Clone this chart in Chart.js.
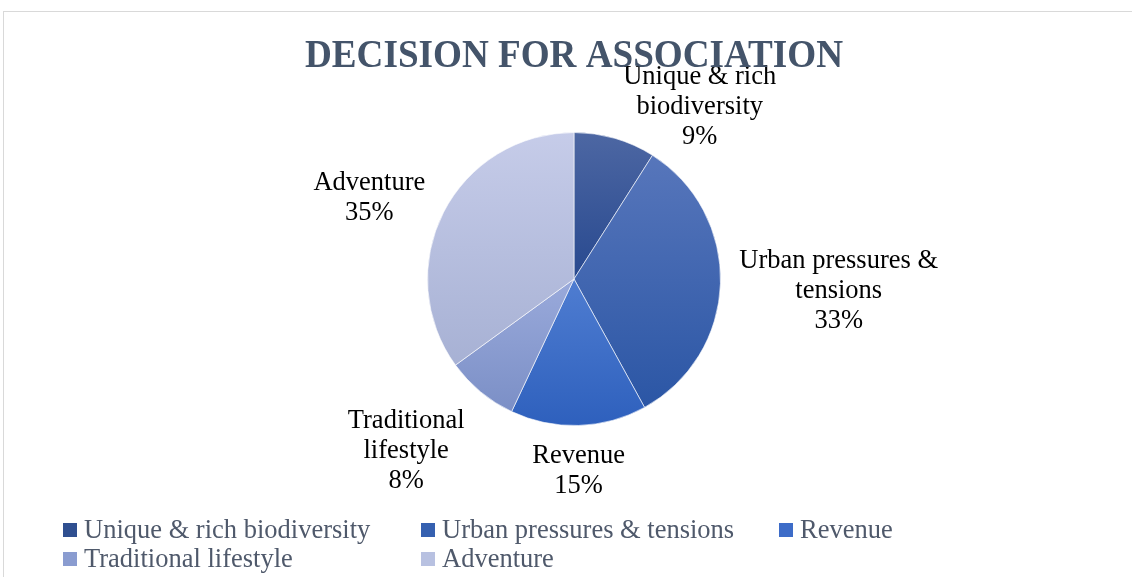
<!DOCTYPE html>
<html>
<head>
<meta charset="utf-8">
<script src="https://cdn.jsdelivr.net/npm/chart.js@4.4.0/dist/chart.umd.min.js"></script>
<style>
  html, body { margin: 0; padding: 0; background: #ffffff; }
  #wrap { position: relative; width: 1132px; height: 577px; overflow: hidden; }
  #frame { position: absolute; left: 3px; top: 11px; width: 1200px; height: 600px; border: 1px solid #d9d9d9; }
  #decision { position: absolute; left: 0; top: 0; }
</style>
</head>
<body>
<div id="wrap">
  <div id="frame"></div>
  <canvas id="decision" width="1132" height="577"></canvas>
</div>
<script>
const chartTitle = 'DECISION FOR ASSOCIATION';
const categories = ['Unique & rich biodiversity', 'Urban pressures & tensions', 'Revenue', 'Traditional lifestyle', 'Adventure'];
const shares = [9, 33, 15, 8, 35];

// light (top) and dark (bottom) stop of each slice's fill
const topColors = ['#4d67a3', '#5776bb', '#4f7dd1', '#9aaadb', '#c6cce9'];
const bottomColors = ['#28498f', '#2b56a5', '#2e60bd', '#7b8fc6', '#a7b1d4'];
const legendColors = ['#2f4f90', '#3560b0', '#3d6cc8', '#8a9cd0', '#b8c1e1'];

const serif = '"Liberation Serif", "Times New Roman", serif';
const labelFont = '26.5px ' + serif;
const labelLine = 30;
// nudges for labels that sit off the mid-angle ray
const labelNudge = [[59, 27], [3, 6], [-2, 0], [-27, 12], [-10, 6]];

function sliceGradient(context) {
  const chart = context.chart;
  const area = chart.chartArea;
  const i = context.dataIndex;
  if (!area) return topColors[i];
  const cx = (area.left + area.right) / 2;
  const cy = (area.top + area.bottom) / 2;
  const r = Math.min(area.right - area.left, area.bottom - area.top) / 2;
  const total = shares.reduce((a, b) => a + b, 0);
  let a0 = -Math.PI / 2;
  for (let k = 0; k < i; k++) a0 += shares[k] / total * Math.PI * 2;
  const a1 = a0 + shares[i] / total * Math.PI * 2;
  const ys = [cy, cy + r * Math.sin(a0), cy + r * Math.sin(a1)];
  const within = (a) => {
    for (let t = a - 4 * Math.PI; t <= a + 4 * Math.PI; t += 2 * Math.PI) {
      if (t >= a0 && t <= a1) return true;
    }
    return false;
  };
  if (within(-Math.PI / 2)) ys.push(cy - r);
  if (within(Math.PI / 2)) ys.push(cy + r);
  const y0 = Math.min(...ys), y1 = Math.max(...ys);
  const g = chart.ctx.createLinearGradient(0, y0, 0, y1);
  g.addColorStop(0, topColors[i]);
  g.addColorStop(1, bottomColors[i]);
  return g;
}

function wrapText(ctx, text, maxWidth) {
  const words = text.split(' ');
  const lines = [];
  let line = '';
  words.forEach(w => {
    const test = line ? line + ' ' + w : w;
    if (line && ctx.measureText(test).width > maxWidth) {
      lines.push(line);
      line = w;
    } else {
      line = test;
    }
  });
  lines.push(line);
  return lines;
}

// bold heading across the top
const heading = {
  id: 'heading',
  afterDraw(chart) {
    const ctx = chart.ctx;
    const area = chart.chartArea;
    ctx.save();
    ctx.font = 'bold 41px ' + serif;
    ctx.fillStyle = '#44546a';
    ctx.textAlign = 'center';
    ctx.textBaseline = 'alphabetic';
    ctx.fillText(chartTitle, (area.left + area.right) / 2, 67, 538);
    ctx.restore();
  }
};

const sliceLabels = {
  id: 'sliceLabels',
  afterDatasetsDraw(chart) {
    const ctx = chart.ctx;
    const meta = chart.getDatasetMeta(0);
    const total = shares.reduce((a, b) => a + b, 0);
    ctx.save();
    ctx.font = labelFont;
    ctx.fillStyle = '#000000';
    ctx.textAlign = 'center';
    ctx.textBaseline = 'middle';
    meta.data.forEach((arc, i) => {
      const mid = (arc.startAngle + arc.endAngle) / 2;
      const dx = Math.cos(mid), dy = Math.sin(mid);
      const lines = wrapText(ctx, chart.data.labels[i], 203);
      lines.push(Math.round(shares[i] / total * 100) + '%');
      const w = Math.max(...lines.map(l => ctx.measureText(l).width));
      const h = lines.length * labelLine;
      const pad = 16;
      const bx = arc.x + dx * (arc.outerRadius + pad) + dx * w / 2 + labelNudge[i][0];
      const by = arc.y + dy * (arc.outerRadius + pad) + dy * h / 2 + labelNudge[i][1];
      lines.forEach((l, j) => {
        ctx.fillText(l, bx, by - h / 2 + labelLine * (j + 0.5));
      });
    });
    ctx.restore();
  }
};

// legend in fixed-width columns, two rows
const gridLegend = {
  id: 'gridLegend',
  afterDraw(chart) {
    const ctx = chart.ctx;
    const colX = [63, 421, 779];
    const rowY = [530, 559];
    ctx.save();
    ctx.font = labelFont;
    ctx.textBaseline = 'middle';
    ctx.textAlign = 'left';
    chart.data.labels.forEach((label, i) => {
      const x = colX[i % 3];
      const y = rowY[Math.floor(i / 3)];
      ctx.fillStyle = legendColors[i];
      ctx.fillRect(x, y - 7, 14, 14);
      ctx.fillStyle = '#4f596b';
      ctx.fillText(label, x + 21, y + 1);
    });
    ctx.restore();
  }
};

new Chart(document.getElementById('decision'), {
  type: 'pie',
  data: {
    labels: categories,
    datasets: [{
      data: shares,
      backgroundColor: sliceGradient,
      borderColor: 'rgba(255,255,255,0.6)',
      borderWidth: 1
    }]
  },
  options: {
    responsive: false,
    animation: false,
    layout: { padding: { left: 427, right: 411, top: 132, bottom: 151 } },
    plugins: {
      legend: { display: false },
      tooltip: { enabled: false },
      title: { display: false }
    }
  },
  plugins: [sliceLabels, gridLegend, heading]
});
</script>
</body>
</html>
